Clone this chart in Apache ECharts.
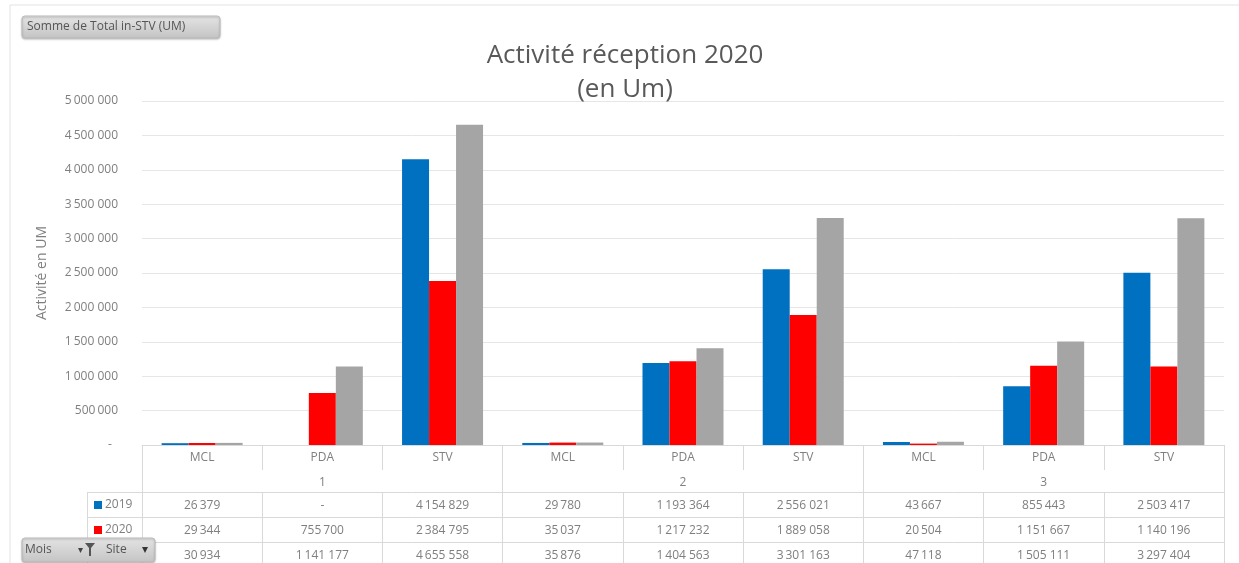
<!DOCTYPE html>
<html>
<head>
<meta charset="utf-8">
<script src="https://cdn.jsdelivr.net/npm/echarts@6/dist/echarts.min.js"></script>
<style>
  html, body { margin: 0; padding: 0; background: #fff; }
  #reception_chart { width: 1239px; height: 563px; }
</style>
</head>
<body>
<div id="reception_chart"></div>
<script>
// activité réception par mois / site
var sites = ['MCL', 'PDA', 'STV', 'MCL', 'PDA', 'STV', 'MCL', 'PDA', 'STV'];
var mois = ['1', '2', '3'];
var seriesNames = ['2019', '2020', '2021'];
var values2019 = [26379, 0, 4154829, 29780, 1193364, 2556021, 43667, 855443, 2503417];
var values2020 = [29344, 755700, 2384795, 35037, 1217232, 1889058, 20504, 1151667, 1140196];
var values2021 = [30934, 1141177, 4655558, 35876, 1404563, 3301163, 47118, 1505111, 3297404];
var yTicks = [0, 500000, 1000000, 1500000, 2000000, 2500000, 3000000, 3500000, 4000000, 4500000, 5000000];

var FONT = '"Open Sans", "Liberation Sans", sans-serif';
var TXT = '#7f7f7f';
var LINE = '#d9d9d9';

// format "4154 829" comme Excel (fr)
function fmt(v) {
  if (!v) return '-';
  var s = String(Math.round(v));
  var out = '';
  while (s.length > 3) {
    out = ' ' + s.slice(-3) + out;
    s = s.slice(0, -3);
  }
  return (s + out).replace(' ', '\u2009');
}

var myChart = echarts.init(document.getElementById('reception_chart'));

// ligne du tableau de données sous le graphe
function tableRow(data, offset, height) {
  return {
    type: 'category',
    position: 'bottom',
    offset: offset,
    data: data.map(fmt),
    axisLine: { show: true, lineStyle: { color: LINE } },
    axisTick: { show: true, length: height, lineStyle: { color: LINE } },
    axisLabel: { color: TXT, fontFamily: FONT, fontSize: 12, margin: 8, interval: 0 },
  };
}

var btnFill = function () {
  return new echarts.graphic.LinearGradient(0, 0, 0, 1, [
    { offset: 0, color: '#e4e4e4' }, { offset: 1, color: '#c4c4c4' }]);
};

myChart.setOption({
  animation: false,
  color: ['#0070c0', '#ff0000', '#a5a5a5'],
  title: {
    text: 'Activité réception 2020\n(en Um)',
    left: 620,
    top: 34,
    textAlign: 'center',
    textStyle: {
      fontFamily: FONT,
      fontSize: 26,
      fontWeight: 'normal',
      color: '#595959',
      lineHeight: 34,
    },
  },
  legend: {
    orient: 'vertical',
    left: 94,
    top: 498,
    padding: 0,
    itemWidth: 8,
    itemHeight: 8,
    itemGap: 11,
    icon: 'rect',
    selectedMode: false,
    textStyle: { color: TXT, fontFamily: FONT, fontSize: 12, lineHeight: 14, padding: [0, 0, 0, -2] },
    data: seriesNames,
  },
  grid: {
    left: 142,
    right: 15,
    top: 101,
    bottom: 118,
  },
  xAxis: [
    {
      type: 'category',
      position: 'bottom',
      data: sites,
      axisLine: { show: true, lineStyle: { color: LINE } },
      axisTick: { show: true, length: 25, lineStyle: { color: LINE } },
      axisLabel: { color: TXT, fontFamily: FONT, fontSize: 12, margin: 7, interval: 0 },
    },
    {
      type: 'category',
      position: 'bottom',
      offset: 25,
      data: mois,
      axisLine: { show: false },
      axisTick: { show: true, length: 22, lineStyle: { color: LINE } },
      axisLabel: { color: TXT, fontFamily: FONT, fontSize: 12, margin: 7, interval: 0 },
    },
    tableRow(values2019, 47, 25),
    tableRow(values2020, 72, 25),
    tableRow(values2021, 97, 25),
  ],
  yAxis: {
    type: 'value',
    min: yTicks[0],
    max: yTicks[yTicks.length - 1],
    interval: yTicks[1] - yTicks[0],
    name: 'Activité en UM',
    nameLocation: 'middle',
    nameGap: 93,
    nameTextStyle: { color: TXT, fontFamily: FONT, fontSize: 14 },
    axisLine: { show: false },
    axisTick: { show: false },
    axisLabel: {
      color: TXT,
      fontFamily: FONT,
      fontSize: 12,
      margin: 24,
      formatter: function (v) { return v === 0 ? '-  ' : fmt(v); },
    },
    splitLine: { lineStyle: { color: '#e6e6e6' } },
  },
  series: [
    { name: seriesNames[0], type: 'bar', barWidth: 27, barGap: '0%', data: values2019 },
    { name: seriesNames[1], type: 'bar', barWidth: 27, barGap: '0%', data: values2020 },
    { name: seriesNames[2], type: 'bar', barWidth: 27, barGap: '0%', data: values2021 },
  ],
  graphic: [
    // cadre du graphique
    { type: 'rect', z: -1, shape: { x: 10, y: 5, width: 1240, height: 570 },
      style: { fill: 'none', stroke: '#e3e3e3', lineWidth: 1 } },
    // lignes de la colonne légende
    { type: 'line', shape: { x1: 87, y1: 492.5, x2: 142, y2: 492.5 }, style: { stroke: LINE } },
    { type: 'line', shape: { x1: 87, y1: 517.5, x2: 142, y2: 517.5 }, style: { stroke: LINE } },
    { type: 'line', shape: { x1: 87, y1: 542.5, x2: 142, y2: 542.5 }, style: { stroke: LINE } },
    { type: 'line', shape: { x1: 87.5, y1: 492, x2: 87.5, y2: 563 }, style: { stroke: LINE } },
    // bouton champ de valeur
    { type: 'rect', z: 100, shape: { x: 22, y: 16, width: 198, height: 22, r: 3 },
      style: { fill: btnFill(), stroke: '#bdbdbd', shadowBlur: 2, shadowColor: 'rgba(0,0,0,0.25)', shadowOffsetY: 1 } },
    { type: 'text', z: 101, x: 27, y: 27,
      style: { text: 'Somme de Total in-STV (UM)', fill: '#555', font: '12px ' + FONT, verticalAlign: 'middle' } },
    // boutons Mois / Site (cachent la 3e ligne de légende)
    { type: 'rect', z: 100, shape: { x: 22, y: 538, width: 133, height: 24, r: 3 },
      style: { fill: btnFill(), stroke: '#bdbdbd', shadowBlur: 2, shadowColor: 'rgba(0,0,0,0.25)', shadowOffsetY: 1 } },
    { type: 'text', z: 101, x: 25, y: 550,
      style: { text: 'Mois', fill: '#555', font: '12px ' + FONT, verticalAlign: 'middle' } },
    { type: 'text', z: 101, x: 78, y: 550,
      style: { text: '▾', fill: '#444', font: '10px ' + FONT, verticalAlign: 'middle' } },
    { type: 'polygon', z: 101, shape: { points: [[85, 543], [95, 543], [91, 548], [91, 556], [89, 556], [89, 548]] },
      style: { fill: '#555' } },
    { type: 'text', z: 101, x: 106, y: 550,
      style: { text: 'Site', fill: '#555', font: '12px ' + FONT, verticalAlign: 'middle' } },
    { type: 'text', z: 101, x: 142, y: 550,
      style: { text: '▾', fill: '#333', font: '12px ' + FONT, verticalAlign: 'middle' } },
  ],
});
</script>
</body>
</html>
